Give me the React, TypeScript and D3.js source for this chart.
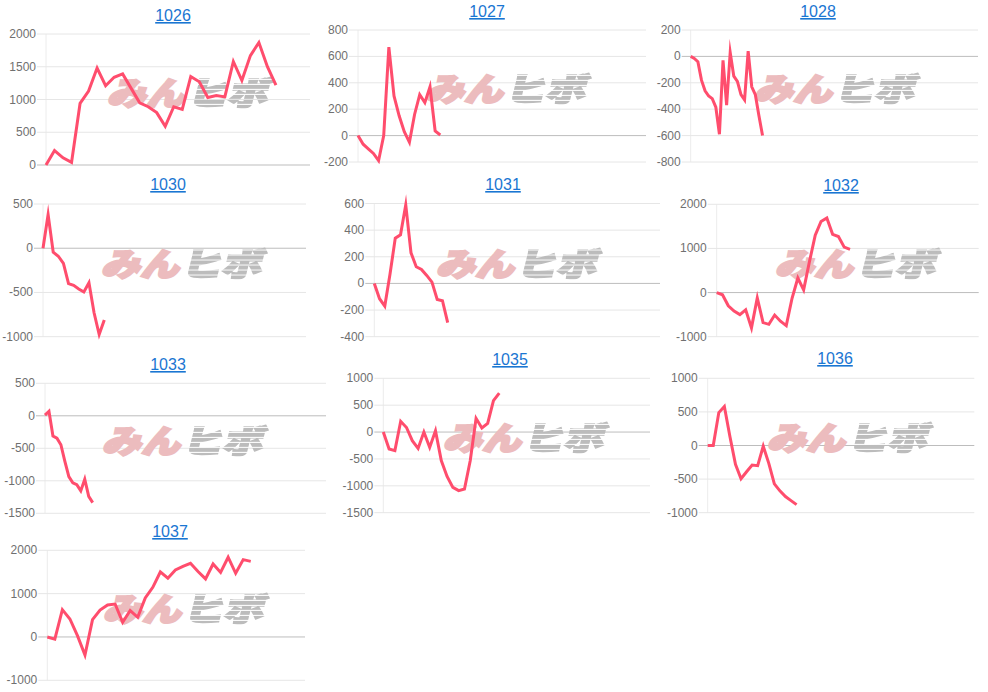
import React from "react";
import * as d3 from "d3";

const titles = ["1026", "1027", "1028", "1030", "1031", "1032", "1033", "1035", "1036", "1037"];

const values1026 = [0, 220, 110, 40, 940, 1130, 1480, 1210, 1340, 1390, 1170, 950, 890, 800, 590, 890, 850, 1350, 1270, 1030, 1060, 1040, 1580, 1290, 1670, 1870, 1500, 1220];
const values1027 = [0, -65, -100, -135, -190, 0, 670, 300, 150, 30, -50, 160, 310, 250, 370, 35, 5];
const values1028 = [0, -15, -40, -180, -260, -300, -320, -385, -590, -30, -370, 30, -150, -190, -290, -330, 40, -230, -290, -450, -600];
const values1030 = [0, 380, -45, -90, -170, -400, -420, -460, -495, -390, -730, -975, -810];
const values1031 = [0, -115, -170, 70, 340, 365, 590, 230, 125, 105, 60, 10, -120, -130, -295];
const values1032 = [0, -50, -300, -420, -500, -390, -800, -120, -680, -720, -510, -650, -750, -130, 330, 60, 700, 1300, 1610, 1690, 1320, 1270, 1030, 980];
const values1033 = [10, 70, -310, -345, -445, -700, -935, -1030, -1060, -1155, -975, -1240, -1335];
const values1035 = [0, -315, -345, 200, 85, -160, -305, 0, -285, 25, -530, -825, -1030, -1090, -1060, -530, 255, 75, 160, 585, 725];
const values1036 = [0, 0, 490, 580, 135, -280, -495, -390, -290, -300, -10, -265, -570, -675, -760, -820, -880];
const values1037 = [0, -50, 630, 415, 30, -415, 400, 620, 740, 760, 340, 610, 455, 900, 1145, 1500, 1355, 1545, 1630, 1700, 1510, 1340, 1685, 1490, 1840, 1470, 1785, 1745];

const series = [values1026, values1027, values1028, values1030, values1031, values1032, values1033, values1035, values1036, values1037];

const ticks1026 = [0, 500, 1000, 1500, 2000];
const ticks1027 = [-200, 0, 200, 400, 600, 800];
const ticks1028 = [-800, -600, -400, -200, 0, 200];
const ticks1030 = [-1000, -500, 0, 500];
const ticks1031 = [-400, -200, 0, 200, 400, 600];
const ticks1032 = [-1000, 0, 1000, 2000];
const ticks1033 = [-1500, -1000, -500, 0, 500];
const ticks1035 = [-1500, -1000, -500, 0, 500, 1000];
const ticks1036 = [-1000, -500, 0, 500, 1000];
const ticks1037 = [-1000, 0, 1000, 2000];
const tickSets = [ticks1026, ticks1027, ticks1028, ticks1030, ticks1031, ticks1032, ticks1033, ticks1035, ticks1036, ticks1037];

// plot frames: left, right, top, bottom, x slots, title x, title baseline, logo x, logo y(top)
const frames = [
  { l: 46, r: 310, t: 34, b: 165, slots: 31, tx: 173, ty: 21, lx: 110, ly: 77 },
  { l: 358, r: 646, t: 30, b: 162, slots: 56, tx: 487, ty: 17, lx: 428, ly: 73 },
  { l: 690.7, r: 978, t: 30, b: 162, slots: 80, tx: 818, ty: 17, lx: 757, ly: 73 },
  { l: 43, r: 306, t: 204, b: 336.7, slots: 51.5, tx: 168, ty: 190, lx: 104, ly: 247.5 },
  { l: 374.3, r: 660, t: 203.5, b: 336.7, slots: 54.5, tx: 503, ty: 190, lx: 439, ly: 247.5 },
  { l: 716.7, r: 978.7, t: 204.3, b: 336.7, slots: 45.2, tx: 841, ty: 191, lx: 778, ly: 247.5 },
  { l: 45, r: 326, t: 383.3, b: 513.3, slots: 70.7, tx: 168, ty: 370, lx: 105, ly: 425 },
  { l: 383.3, r: 650, t: 378.3, b: 512.7, slots: 46, tx: 510, ty: 365, lx: 446, ly: 422 },
  { l: 707.7, r: 974.3, t: 378.3, b: 512.7, slots: 48, tx: 835, ty: 364, lx: 770, ly: 422 },
  { l: 47.3, r: 305, t: 550.3, b: 680.3, slots: 34.2, tx: 170, ty: 537, lx: 106, ly: 593 },
];

const SANS = "'Liberation Sans', Arial, sans-serif";
const CJK = "'Noto Sans CJK JP', sans-serif";

function Logo({ x, y }: { x: number; y: number }) {
  return (
    <g transform={`translate(${x},${y + 28}) skewX(-14)`} style={{ fontFamily: CJK, fontWeight: 900 }}>
      <text x={-3} y={0} fontSize={32} textLength={78} lengthAdjust="spacingAndGlyphs" fill="#ecbcbe" stroke="#ecbcbe" strokeWidth={2.4}>
        みん
      </text>
      <g mask="url(#stripes)">
        <text x={77} y={0} fontSize={32} textLength={80} lengthAdjust="spacingAndGlyphs" fill="#bcbcbc" stroke="#bcbcbc" strokeWidth={2.4}>
          ヒボ
        </text>
      </g>
    </g>
  );
}

function Panel({ index }: { index: number }) {
  const f = frames[index];
  const data = series[index];
  const ticks = tickSets[index];
  const x = d3.scaleLinear().domain([0, f.slots]).range([f.l, f.r]);
  const y = d3.scaleLinear().domain([ticks[0], ticks[ticks.length - 1]]).range([f.b, f.t]);
  const line = d3.line<number>().x((_, i) => x(i)).y((d) => y(d));
  return (
    <g>
      <a href="#">
        <text x={f.tx} y={f.ty} textAnchor="middle" fontSize={16} fontFamily={SANS} fill="#1a76d2" textDecoration="underline">
          {titles[index]}
        </text>
      </a>
      <line x1={f.l} x2={f.l} y1={f.t} y2={f.b} stroke="#ececec" />
      {ticks.map((t) => (
        <g key={t}>
          <line x1={f.l - 9} x2={f.r} y1={y(t)} y2={y(t)} stroke={t === 0 ? "#bdbdbd" : "#e6e6e6"} />
          <text x={f.l - 10} y={y(t) + 4} textAnchor="end" fontSize={12} fontFamily={SANS} fill="#707070">
            {t}
          </text>
        </g>
      ))}
      <Logo x={f.lx} y={f.ly} />
      <path d={line(data) ?? ""} fill="none" stroke="#ff4d6d" strokeWidth={3} strokeLinejoin="miter" strokeMiterlimit={10} />
    </g>
  );
}

export default function App() {
  return (
    <svg width={988} height={692} style={{ position: "absolute", left: 0, top: 0, display: "block" }}>
      <defs>
        <pattern id="stripePattern" width={4} height={5} patternUnits="userSpaceOnUse">
          <rect width={4} height={4} fill="#fff" />
        </pattern>
        <mask id="stripes" maskUnits="userSpaceOnUse" x={-50} y={-50} width={1200} height={800}>
          <rect x={-50} y={-50} width={1200} height={800} fill="url(#stripePattern)" />
        </mask>
      </defs>
      <rect width={988} height={692} fill="#fff" />
      {titles.map((_, i) => (
        <Panel key={titles[i]} index={i} />
      ))}
    </svg>
  );
}
